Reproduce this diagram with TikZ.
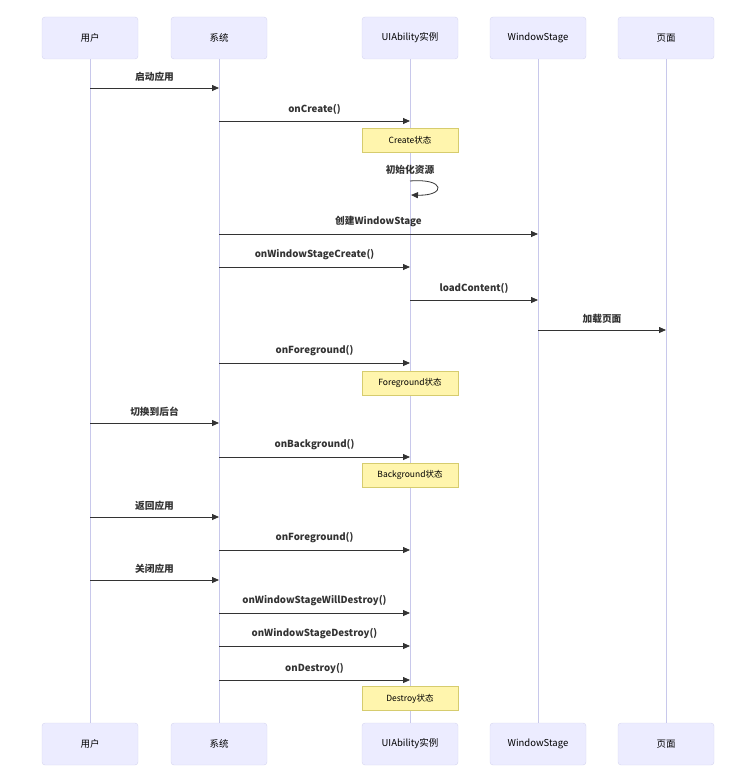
\documentclass[tikz,border=0pt]{standalone}
\usepackage{fontspec}
\setmainfont{Noto Sans CJK SC}
\usetikzlibrary{arrows.meta}
\definecolor{actfill}{RGB}{236,236,255}
\definecolor{actline}{RGB}{214,214,240}
\definecolor{lifeline}{RGB}{200,200,235}
\definecolor{notefill}{RGB}{255,245,173}
\definecolor{noteline}{RGB}{214,204,110}
\definecolor{msgcol}{RGB}{51,51,51}
\tikzset{%
  actor/.style={draw=actline,fill=actfill,rounded corners=3pt,minimum width=96pt,minimum height=42pt,
    font=\fontsize{9.5}{11}\selectfont,text=black},
  note/.style={draw=noteline,fill=notefill,minimum width=96pt,minimum height=24pt,
    font=\fontsize{8.5}{10}\selectfont,text=black},
  life/.style={draw=lifeline,line width=0.8pt},
  msg/.style={->,>={Triangle[length=7pt,width=6pt]},draw=msgcol,line width=0.8pt},
  msglabel/.style={above=3pt,font=\fontsize{9.7}{11}\selectfont\bfseries,text=msgcol}
}
\begin{document}
\begin{tikzpicture}[x=1pt,y=-1pt]
    \useasboundingbox (0,0) rectangle (737,776);

    % Participants, top and bottom
    \foreach \n/\xp/\t in {usr/90/用户,sys/219/系统,uia/410/UIAbility实例,ws/538/WindowStage,page/666/页面}
        {
        \node[actor] (\n) at (\xp,38) {\t};
        \node[actor] (\n B) at (\xp,744) {\t};
        \draw[life] (\n) -- (\n B);
        }

    % Messages
    \foreach \a/\b/\y/\t in {usr/sys/88/启动应用, sys/uia/121/onCreate(), sys/ws/234/创建WindowStage,
        sys/uia/267/onWindowStageCreate(), uia/ws/300/loadContent(), ws/page/330/加载页面,
        sys/uia/363/onForeground(), usr/sys/423/切换到后台, sys/uia/457/onBackground(),
        usr/sys/517/返回应用, sys/uia/550/onForeground(), usr/sys/580/关闭应用,
        sys/uia/613/onWindowStageWillDestroy(), sys/uia/646/onWindowStageDestroy(),
        sys/uia/680/onDestroy()}
        {
        \draw[msg] (\a |- 0,\y) -- node[msglabel] {\t} (\b |- 0,\y);
        }

    % Self call
    \coordinate (selfA) at (410,181);
    \coordinate (selfB) at (411,195);
    \draw[msg] (selfA) .. controls (446,178) and (446,196) .. (selfB);
    \node[msglabel,above=0pt] (selfL) at (selfA) {初始化资源};

    % State notes
    \node[note] (nCreate) at (410,140) {Create状态};
    \node[note] (nFore) at (410,383) {Foreground状态};
    \node[note] (nBack) at (410,475) {Background状态};
    \node[note] (nDestroy) at (410,698.5) {Destroy状态};

\end{tikzpicture}
\end{document}
